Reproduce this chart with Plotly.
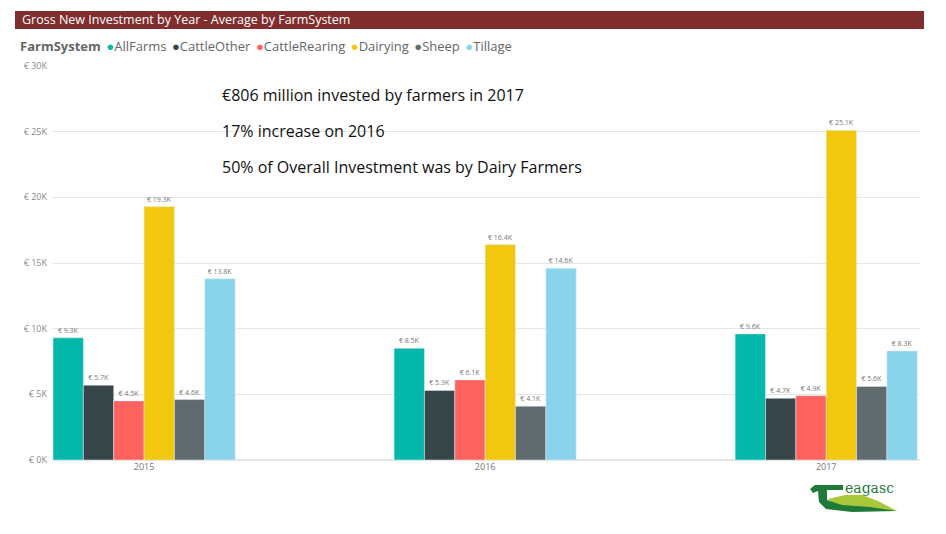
import plotly.graph_objects as go

years = ["2015", "2016", "2017"]
series = ["AllFarms", "CattleOther", "CattleRearing", "Dairying", "Sheep", "Tillage"]
colors = ["#01B8AA", "#374649", "#FD625E", "#F2C80F", "#5F6B6D", "#8AD4EB"]
allfarms = [9.3, 8.5, 9.6]
cattleother = [5.7, 5.3, 4.7]
cattlerearing = [4.5, 6.1, 4.9]
dairying = [19.3, 16.4, 25.1]
sheep = [4.6, 4.1, 5.6]
tillage = [13.8, 14.6, 8.3]
values = [allfarms, cattleother, cattlerearing, dairying, sheep, tillage]
ytick_vals = [0, 5, 10, 15, 20, 25, 30]
ytick_text = ["€ 0K", "€ 5K", "€ 10K", "€ 15K", "€ 20K", "€ 25K", "€ 30K"]
title_text = "Gross New Investment by Year - Average by FarmSystem"
legend_title = "FarmSystem"
notes = ["€806 million invested by farmers in 2017",
         "17% increase on 2016",
         "50% of Overall Investment was by Dairy Farmers"]

OFF = 8  # page body margin
W, H = 946, 534
SL, SR, ST, SB = 52, 920, 66, 460
ML, MT = SL - OFF, ST - OFF
MR = W - (SR - OFF)
MB = H - (SB - OFF)
PW, PH = W - ML - MR, H - MT - MB


def px(x):
    return (x - OFF - ML) / PW


def py(y):
    return (H - MB - (y - OFF)) / PH


FONT = "Open Sans, Noto Sans, sans-serif"

fig = go.Figure()
for name, col, vals in zip(series, colors, values):
    fig.add_trace(go.Bar(
        x=years, y=vals, name=name, marker_color=col, showlegend=False,
        text=[f"€ {v}K" for v in vals], textposition="outside",
        textfont=dict(size=7, color="#777777", family=FONT),
        constraintext="none", cliponaxis=False, hoverinfo="skip"))

shapes = [dict(type="rect", xref="paper", yref="paper",
               x0=px(15), x1=px(924), y0=py(29), y1=py(11),
               fillcolor="#7F2D2D", line_width=0, layer="below")]


def path(points):
    return "M " + " L ".join(f"{px(a):.4f},{py(b):.4f}" for a, b in points) + " Z"


# logo approximation
shapes.append(dict(type="path", xref="paper", yref="paper",
                   path=path([(828, 499), (845, 495), (862, 495), (878, 501), (897, 511), (860, 510), (836, 506)]),
                   fillcolor="#A8C83A", line_width=0))
shapes.append(dict(type="path", xref="paper", yref="paper",
                   path=path([(815, 485), (843, 485), (843, 490), (827, 490), (827, 500),
                              (842, 505), (870, 507), (897, 511), (852, 512), (826, 509), (819, 502),
                              (818, 491), (813, 493), (810, 489)]),
                   fillcolor="#1F7A3A", line_width=0))

annotations = [dict(text=title_text, x=px(20), y=py(20), xref="paper", yref="paper",
                    xanchor="left", yanchor="middle", showarrow=False,
                    font=dict(size=12.5, color="white", family=FONT))]

SEP = "\u00a0\u2009"
leg = f"<b>{legend_title}</b>{SEP}" + SEP.join(
    f"<span style='color:{c}'>●</span>{n}" for n, c in zip(series, colors))
annotations.append(dict(text=leg, x=px(18), y=py(46), xref="paper", yref="paper",
                        xanchor="left", yanchor="middle", showarrow=False,
                        font=dict(size=13, color="#666666", family=FONT)))

for i, t in enumerate(notes):
    annotations.append(dict(text=t, x=px(220), y=py(95 + 36 * i), xref="paper", yref="paper",
                            xanchor="left", yanchor="middle", showarrow=False,
                            font=dict(size=16, color="#111111", family=FONT)))
annotations.append(dict(text="eagasc", x=px(843), y=py(488), xref="paper", yref="paper",
                        xanchor="left", yanchor="middle", showarrow=False,
                        font=dict(size=14, color="#1F7A3A", family="DejaVu Serif, serif")))

fig.update_layout(
    width=W, height=H, margin=dict(l=ML, r=MR, t=MT, b=MB),
    paper_bgcolor="white", plot_bgcolor="white",
    barmode="group", bargap=0.466, bargroupgap=0,
    font=dict(family=FONT, color="#777777"),
    showlegend=False,
    xaxis=dict(type="category", range=[-0.27, 2.275], showgrid=False, showline=False,
               ticks="", tickfont=dict(size=9, color="#777777")),
    yaxis=dict(range=[0, 30], tickvals=ytick_vals, ticktext=ytick_text,
               showgrid=True, gridcolor="#E6E6E6", gridwidth=1, zeroline=True,
               zerolinecolor="#E6E6E6", tickfont=dict(size=9, color="#888888"),
               ticks="", showline=False, ticklabelstandoff=4),
    shapes=shapes, annotations=annotations,
)
fig.write_html("out.html")
